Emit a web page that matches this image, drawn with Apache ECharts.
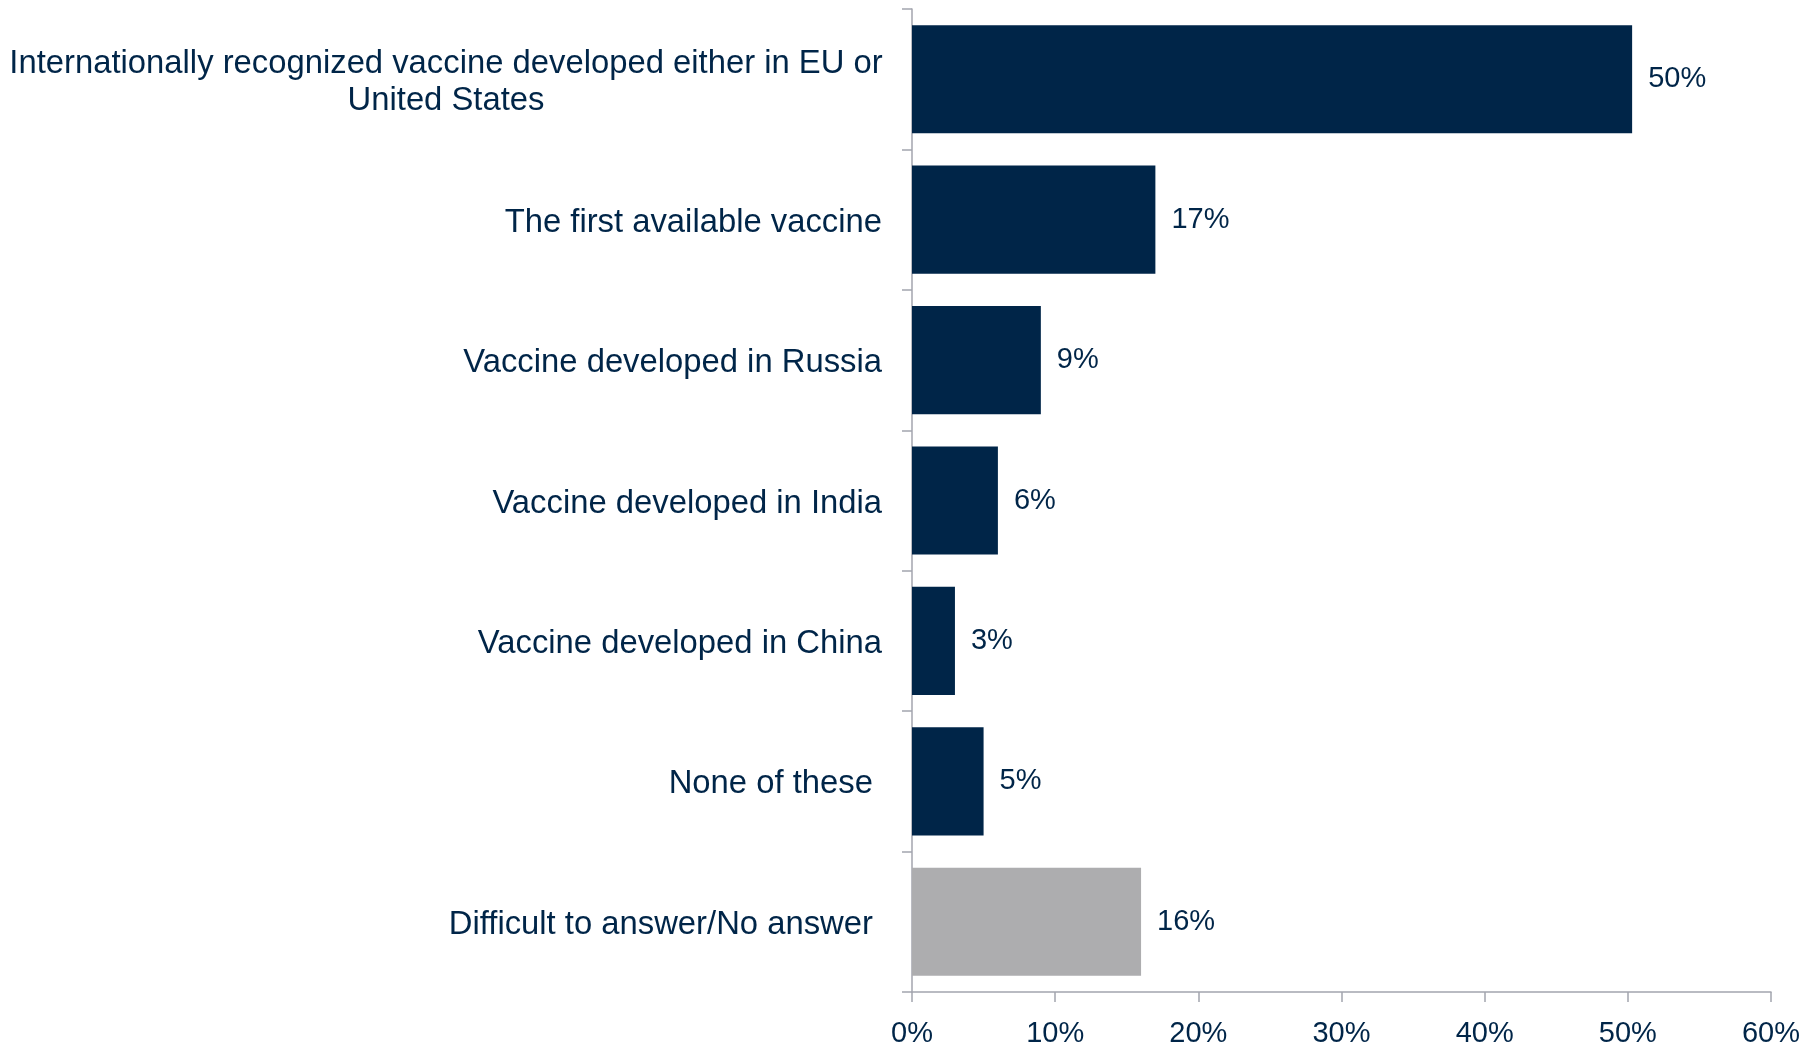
<!DOCTYPE html>
<html>
<head>
<meta charset="utf-8">
<script src="https://cdn.jsdelivr.net/npm/echarts@6/dist/echarts.min.js"></script>
<style>
html,body{margin:0;padding:0;background:#fff;}
#chart{width:1816px;height:1064px;}
</style>
</head>
<body>
<div id="chart"></div>
<script>
const categories = [
  "Internationally recognized vaccine developed either in EU or\nUnited States",
  "The first available vaccine",
  "Vaccine developed in Russia",
  "Vaccine developed in India",
  "Vaccine developed in China",
  "None of these ",
  "Difficult to answer/No answer "
];
const values = [50.3, 17, 9, 6, 3, 5, 16];
const barColors = ["#002548", "#002548", "#002548", "#002548", "#002548", "#002548", "#ADADAF"];
const xTicks = [0, 10, 20, 30, 40, 50, 60];

const NAVY = "#002548";
const FONT = "Liberation Sans";

const chart = echarts.init(document.getElementById('chart'), null, {renderer: 'canvas'});
chart.setOption({
  animation: false,
  backgroundColor: '#ffffff',
  grid: {left: 912, right: 45, top: 9, bottom: 72, containLabel: false},
  xAxis: {
    type: 'value',
    min: xTicks[0],
    max: xTicks[xTicks.length - 1],
    interval: 10,
    axisLine: {show: true, lineStyle: {color: '#A3A5AE', width: 1.5}},
    axisTick: {show: true, length: 10, lineStyle: {color: '#A3A5AE', width: 1.5}},
    splitLine: {show: false},
    axisLabel: {
      color: NAVY, fontFamily: FONT, fontSize: 29, margin: 27,
      formatter: v => v + '%'
    }
  },
  yAxis: {
    type: 'category',
    data: categories,
    inverse: true,
    axisLine: {show: true, lineStyle: {color: '#A3A5AE', width: 1.5}},
    axisTick: {show: true, length: 10, lineStyle: {color: '#A3A5AE', width: 1.5}},
    axisLabel: {
      color: NAVY, fontFamily: FONT, fontSize: 32.8, margin: 30,
      padding: [6, 0, 0, 0],
      formatter: function (v, i) {
        if (v.indexOf('\n') >= 0) {
          return v.split('\n').map(s => '{c|' + s + '}').join('\n');
        }
        return v;
      },
      rich: {
        c: {width: 872, align: 'center', color: NAVY, fontFamily: FONT, fontSize: 32.8, lineHeight: 37}
      }
    }
  },
  series: [{
    type: 'bar',
    data: values.map((v, i) => ({value: v, itemStyle: {color: barColors[i]}})),
    barCategoryGap: '23%',
    label: {
      show: true, position: 'right', distance: 16,
      padding: [7, 0, 0, 0],
      color: NAVY, fontFamily: FONT, fontSize: 29,
      formatter: p => Math.round(p.value) + '%'
    }
  }]
});
</script>
</body>
</html>
